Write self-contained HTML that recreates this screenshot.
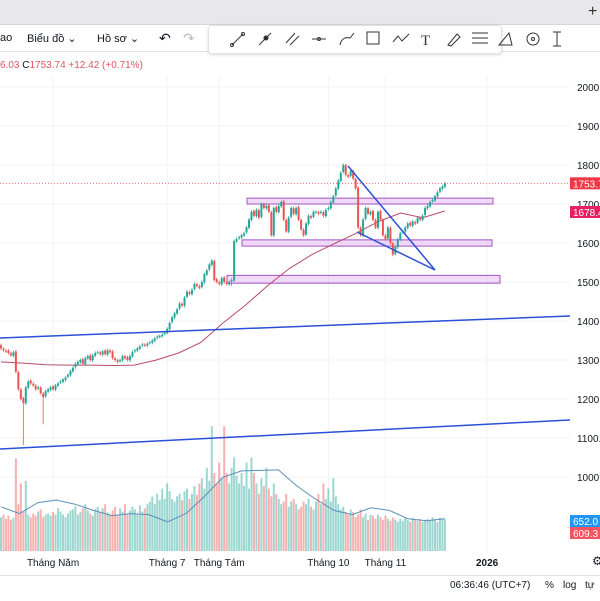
<!DOCTYPE html>
<html><head><meta charset="utf-8">
<style>
body{margin:0;width:600px;height:600px;overflow:hidden;background:#fff;font-family:"Liberation Sans","Noto Sans CJK SC",sans-serif;}
#wrap{position:relative;width:600px;height:600px;}
.t{position:absolute;font-size:11px;color:#131722;white-space:nowrap;}
</style></head><body>
<div id="wrap">
<div style="position:absolute;left:0;top:0;width:600px;height:24px;background:#e8e8ec;border-bottom:1px solid #d6d6da"></div>
<div class="t" style="left:588px;top:3px;font-size:16px;color:#333">+</div>
<div style="position:absolute;left:0;top:25px;width:600px;height:26px;background:#fff;border-bottom:1px solid #e0e3eb"></div>
<div class="t" style="left:0;top:32px">ao</div>
<div class="t" style="left:27px;top:32px">Biểu đồ ⌄</div>
<div class="t" style="left:97px;top:32px">Hồ sơ ⌄</div>
<div class="t" style="left:159px;top:30px;font-size:14px">↶</div>
<div class="t" style="left:183px;top:30px;font-size:14px;color:#bbb">↷</div>
<div style="position:absolute;left:208px;top:25px;width:292px;height:27px;background:#fff;border:1px solid #e0e3eb;border-radius:4px;box-shadow:0 1px 3px rgba(0,0,0,.15)"></div>
<svg style="position:absolute;left:0;top:0" width="600" height="60" stroke="#333" fill="none" stroke-width="1">
<g><line x1="232" y1="45" x2="243" y2="34"/><circle cx="232" cy="45" r="1.5"/><circle cx="243" cy="34" r="1.5"/></g>
<g><line x1="259" y1="45" x2="271" y2="33"/><circle cx="266" cy="38" r="2" fill="#333"/></g>
<g><line x1="286" y1="43" x2="295" y2="33"/><line x1="290" y1="45" x2="299" y2="36"/></g>
<g><line x1="312" y1="39" x2="326" y2="39"/><circle cx="319" cy="39" r="1.5"/></g>
<g><path d="M340 45 Q342 36 350 38 L354 33"/></g>
<g><rect x="367" y="32" width="12" height="12"/></g>
<g><path d="M393 42 L398 36 L402 41 L409 34"/></g>
<text x="421" y="45" font-size="15" fill="#333" stroke="none" font-family="Liberation Serif">T</text>
<g><path d="M448 45 L457 34 L460 37 L451 46Z"/></g>
<g><line x1="472" y1="33" x2="488" y2="33"/><line x1="472" y1="38" x2="488" y2="38"/><line x1="472" y1="43" x2="488" y2="43"/></g>
<g><path d="M499 45 L509 33 L512 45Z"/></g>
<g><circle cx="533" cy="39" r="6"/><circle cx="533" cy="39" r="1.5"/></g>
<g><line x1="557" y1="32" x2="557" y2="46"/><line x1="553" y1="32" x2="561" y2="32"/><line x1="553" y1="46" x2="561" y2="46"/></g>
</svg>
<div class="t" style="left:0;top:60px;font-size:10px;color:#e0575e">6.03 <span style="color:#131722">C</span>1753.74 +12.42 (+0.71%)</div>
<svg id="chart" style="position:absolute;left:0;top:0" width="600" height="600"></svg>
<div style="position:absolute;left:0;top:575px;width:600px;height:25px;border-top:1px solid #e0e3eb;background:#fff"></div>
<div class="t" style="left:450px;top:580px;font-size:10px">06:36:46 (UTC+7)</div>
<div class="t" style="left:545px;top:580px;font-size:10px">%</div>
<div class="t" style="left:563px;top:580px;font-size:10px">log</div>
<div class="t" style="left:585px;top:580px;font-size:10px">tự</div>
<div class="t" style="left:592px;top:554px;font-size:12px">⚙</div>
</div>
<script>
const closes=[1330,1325,1322,1318,1312,1320,1270,1225,1200,1190,
1230,1245,1240,1235,1225,1230,1215,1205,1220,
1225,1230,1225,1235,1240,1245,1250,1255,1262,1272,
1280,1290,1295,1300,1290,1305,1310,1300,1312,1318,1320,1315,
1322,1315,1325,1320,1305,1300,1295,1300,1310,1305,
1300,1310,1320,1325,1330,1335,1340,1338,
1342,1345,1350,1355,1360,1362,1365,1370,1380,1395,
1410,1420,1430,1445,1440,1460,1475,
1470,1480,1495,1490,1485,1500,1520,1530,1545,
1555,1505,1500,1495,1510,1500,1495,1500,1505,
1605,1610,1615,1620,1625,1640,1660,
1680,1670,1685,1665,1700,1690,1695,1680,1620,1690,
1680,1695,1705,1660,1630,1665,1690,1675,1690,1660,
1635,1620,1650,1670,1665,1680,1680,1675,1680,1670,
1685,1690,1705,1720,1740,1760,1780,1800,1775,1770,
1785,1765,1740,1640,1620,
1660,1690,1675,1680,1660,1640,1680,1660,1620,1610,
1640,1600,1570,1590,1610,1625,1630,1640,1650,1645,
1655,1650,1665,1660,1670,1690,1695,1705,1710,1720,1730,1740,1745,1753];
const specialLows={9:1082,17:1135,93:1490};
const maValues=[1295,1292,1288,1287,1287,1286,1287,1300,1318,1345,1395,1440,1490,1535,1570,1598,1625,1655,1677,1665,1682];
const volumes=[650,700,620,680,600,640,1780,900,1300,750,1350,700,650,720,680,760,800,650,700,720,
680,750,700,820,760,700,650,720,780,800,860,700,750,820,900,780,720,680,800,850,
760,820,900,740,700,780,850,700,820,760,900,720,780,850,800,700,880,760,820,900,
950,1050,900,1100,980,1200,1000,1300,1150,1000,950,1050,1100,980,1150,1200,1000,1100,1250,1080,
1300,1400,1200,1600,1350,2400,1500,1300,1700,1400,2400,1500,1300,1600,1800,1450,1300,1500,1250,1700,
1200,1800,1500,1300,1100,1400,1250,1600,1200,1050,1300,1100,1000,900,950,1100,850,950,1000,900,
800,850,950,900,1000,850,800,950,1100,900,1300,1000,1200,950,1400,1050,900,800,850,750,
700,800,750,650,700,800,650,720,600,700,680,620,700,650,600,680,620,580,640,600,
560,620,580,650,600,560,640,600,580,620,560,600,620,580,650,600,560,640,610,609];
const volMaValues=[850,720,930,980,900,780,680,720,700,560,720,1050,1420,1540,1550,1560,1250,1000,780,700,830,780,620,580,620];
const priceTicks=[2000,1900,1800,1700,1600,1500,1400,1300,1200,1100,1000];
const monthLabels=["Tháng Năm","Tháng 7","Tháng Tám","Tháng 10","Tháng 11","2026"];
const monthIdx=[21,67,88,132,155,196];

const NS="http://www.w3.org/2000/svg";
const svg=document.getElementById('chart');
const py=p=>87+(2000-p)*0.39;
const px=i=>1+i*2.48;
const vy=v=>551-v*0.052;
function mk(tag,attrs,parent){const e=document.createElementNS(NS,tag);for(const k in attrs)e.setAttribute(k,attrs[k]);(parent||svg).appendChild(e);return e;}
priceTicks.forEach(p=>{
  const l=mk('line',{x1:0,x2:570,y1:py(p),y2:py(p),stroke:'#f2f3f7'});
  
  
  const t=mk('text',{x:577,y:py(p)+4,'font-size':10,fill:'#131722'});
  t.textContent=p.toFixed(0)+'.';
  
  
});
monthIdx.forEach((m,k)=>{
  const x=px(m);
  const g=mk('line',{x1:x,x2:x,y1:76,y2:553,stroke:'#f2f3f7'});
  
  
  const t=mk('text',{x:x,y:566,'font-size':10,fill:'#131722','text-anchor':'middle','font-weight':k==5?'bold':'normal'});
  t.textContent=monthLabels[k];
  
  
});
volumes.forEach((v,i)=>{
  const o=i?closes[i-1]:closes[0];
  const up=closes[i]>=o;
  const r=mk('rect',{x:px(i)-1,y:vy(v),width:2,height:551-vy(v),fill:up?'#26a69a':'#ef5350',opacity:0.45});
  
  
});
let vd='';volMaValues.forEach((v,k)=>{const i=k*(closes.length-1)/(volMaValues.length-1);vd+=(k?'L':'M')+px(i).toFixed(1)+' '+vy(v).toFixed(1);});
const vl=mk('path',{d:vd,fill:'none',stroke:'#5b8fb9','stroke-width':1});


[[247,493,1715,1700],[242,492,1608,1592],[227,500,1517,1497]].forEach(r=>{
  const e=mk('rect',{x:r[0],y:py(r[2]),width:r[1]-r[0],height:py(r[3])-py(r[2]),fill:'rgba(225,170,240,0.45)',stroke:'#a154c4','stroke-width':1});
  
  
});
let md='';maValues.forEach((v,k)=>{const i=k*(closes.length-1)/(maValues.length-1);md+=(k?'L':'M')+px(i).toFixed(1)+' '+py(v).toFixed(1);});
const ml=mk('path',{d:md,fill:'none',stroke:'#b84a66','stroke-width':1});


closes.forEach((c,i)=>{
  const o=i?closes[i-1]+(i%3==0?2:-1):c+8;
  const up=c>=o;const col=up?'#26a69a':'#ef5350';
  const hi=Math.max(o,c)+4;const lo=specialLows[i]||Math.min(o,c)-4;
  const x=px(i);
  const w=mk('line',{x1:x,x2:x,y1:py(hi),y2:py(lo),stroke:col,'stroke-width':0.8});
  
  
  const b=mk('rect',{x:x-1,y:py(Math.max(o,c)),width:2,height:Math.max(1,Math.abs(py(o)-py(c))),fill:col});
  
  
});
[[0,338,570,316],[0,449,570,420],[348,166,435,270],[357,232,435,270]].forEach(l=>{
  const e=mk('line',{x1:l[0],y1:l[1],x2:l[2],y2:l[3],stroke:'#2b4fd8','stroke-width':1.5});
  
  
});
const lp=closes[closes.length-1];
const dl=mk('line',{x1:0,x2:570,y1:py(lp),y2:py(lp),stroke:'#ef5350','stroke-dasharray':'1 2','stroke-width':0.8});


function tag(y,txt,bg,name){
  const r=mk('rect',{x:570,y:y-6,width:30,height:12,fill:bg});
  
  
  const t=mk('text',{x:573,y:y+4,'font-size':10,fill:'#fff'});t.textContent=txt;
  
  
}
tag(py(lp),'1753.7','#f23645','last-price-label');
tag(212,'1678.4','#e91e63','ma-price-label');
tag(521,'652.0','#2196f3','volume-ma-label');
tag(533,'609.3','#f7525f','volume-label');
</script>
</body></html>
